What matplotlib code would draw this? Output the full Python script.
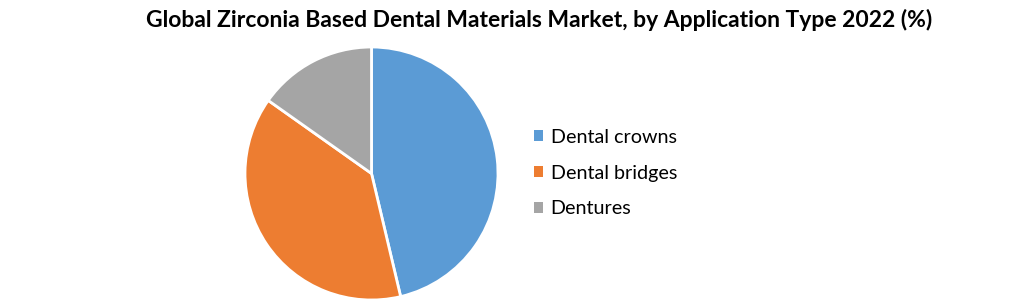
import matplotlib
matplotlib.use("Agg")
import matplotlib.pyplot as plt
from matplotlib.patches import Patch

categories = ["Dental crowns", "Dental bridges", "Dentures"]
values = [46.3, 38.5, 15.2]
colors = ["#5B9BD5", "#ED7D31", "#A5A5A5"]
title = "Global Zirconia Based Dental Materials Market, by Application Type 2022 (%)"

W, H = 1021, 304
fig = plt.figure(figsize=(W / 100, H / 100), dpi=100)

cx, cy, r = 371.5, 173.5, 126.5
ax = fig.add_axes([(cx - r) / W, (H - cy - r) / H, 2 * r / W, 2 * r / H])
ax.pie(values, colors=colors, startangle=90, counterclock=False,
       wedgeprops=dict(edgecolor="white", linewidth=2), radius=1)
ax.set_xlim(-1, 1)
ax.set_ylim(-1, 1)
ax.set_aspect("equal")
ax.axis("off")

fig.text(539 / W, 1 - 20 / H, title, ha="center", va="center",
         fontsize=16.5, fontweight="bold", family="Lato")

handles = [Patch(facecolor=c, edgecolor="none") for c in colors]
fig.legend(handles, categories, loc="center left",
           bbox_to_anchor=(516 / W, 1 - 173 / H), frameon=False,
           prop=dict(family="Lato", size=14.2), handlelength=0.45, handleheight=0.45,
           handletextpad=0.4, labelspacing=0.95)

fig.savefig("out.png", dpi=100)
